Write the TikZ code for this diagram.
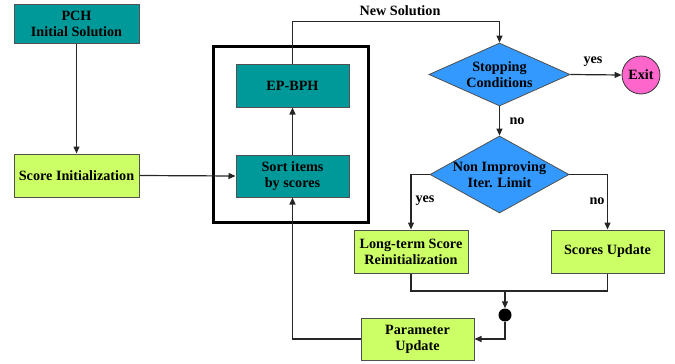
\documentclass[tikz,border=0pt]{standalone}
\usepackage{fontspec}
\setmainfont{Liberation Serif}
\usetikzlibrary{arrows.meta,shapes.geometric}
\definecolor{tealbox}{HTML}{009999}
\definecolor{limebox}{HTML}{CCFF66}
\definecolor{bluedia}{HTML}{3399FF}
\definecolor{pinkexit}{HTML}{FF66CC}
\definecolor{edgegray}{HTML}{505050}
\tikzset{
  txt/.style={font=\fontsize{14.2}{16}\selectfont\bfseries, align=center},
  box/.style={txt, draw=edgegray, line width=1pt, rectangle, inner sep=0pt},
  tealnode/.style={box, fill=tealbox},
  limenode/.style={box, fill=limebox},
  dia/.style={diamond, draw=edgegray, line width=0.8pt, fill=bluedia, inner sep=0pt},
  bigbox/.style={draw=black, line width=3pt, rectangle, inner sep=0pt},
  conn/.style={draw=black!85, line width=1.2pt},
  arr/.style={conn, -{Triangle[length=7pt,width=6pt]}},
  lbl/.style={txt, inner sep=1pt},
}
\begin{document}
\begin{tikzpicture}[x=1pt,y=-1pt]
\useasboundingbox (0,0) rectangle (675,364);
% big frame
\node[bigbox, minimum width=155pt, minimum height=176pt] (frame) at (290.5,134) {};
% boxes
\node[tealnode, minimum width=125pt, minimum height=39pt] (pch) at (76.5,23.5) {PCH\\Initial Solution};
\node[limenode, minimum width=125pt, minimum height=43pt] (si) at (76.5,175.5) {Score Initialization};
\node[tealnode, minimum width=113pt, minimum height=43pt] (ep) at (292.5,85.5) {EP-BPH};
\node[tealnode, minimum width=113pt, minimum height=42pt] (sort) at (292.5,176) {Sort items\\by scores};
\node[dia, minimum width=141pt, minimum height=63pt,
  label={[txt]center:Stopping\\Conditions}] (stop) at (499.5,74.5) {};
\node[circle, draw=black!80, line width=0.8pt, fill=pinkexit, minimum size=38pt, inner sep=0pt, txt] (exit) at (641,75) {Exit};
\node[dia, minimum width=139pt, minimum height=77pt,
  label={[txt]center:Non Improving\\Iter. Limit}] (nil) at (499.5,174.5) {};
\node[limenode, minimum width=114pt, minimum height=43pt] (lt) at (411,251.5) {Long-term Score\\Reinitialization};
\node[limenode, minimum width=113pt, minimum height=43pt] (su) at (607.5,251.5) {Scores Update};
\node[limenode, minimum width=113pt, minimum height=42pt] (pu) at (417.5,339) {Parameter\\Update};
\node[circle, fill=black, minimum size=13pt, inner sep=0pt] (dot) at (505,315) {};
\coordinate (m) at (505,291);
% labels
\node[lbl] (newsol) at (400,11) {New Solution};
\node[lbl] (yes1) at (593,62) {yes};
\node[lbl] (no1) at (517,121) {no};
\node[lbl] (yes2) at (425,201) {yes};
\node[lbl] (no2) at (597,201) {no};
% connectors
\draw[arr] (pch.south) -- (si.north);
\draw[arr] (si.east) -- (sort.west);
\draw[arr] (sort.north) -- (ep.south);
\draw[arr] (ep.north) -- ++(0,-42) -| (stop.north);
\draw[arr] (stop.east) -- (exit.west);
\draw[arr] (stop.south) -- (nil.north);
\draw[arr] (nil.west) -| (lt.north);
\draw[arr] (nil.east) -| (su.north);
\draw[conn] (lt.south) |- (m) -| (su.south);
\draw[arr] (m) -- (dot.north);
\draw[arr] (dot.south) |- (pu.east);
\draw[arr] (pu.west) -| (sort.south);
\end{tikzpicture}
\end{document}
